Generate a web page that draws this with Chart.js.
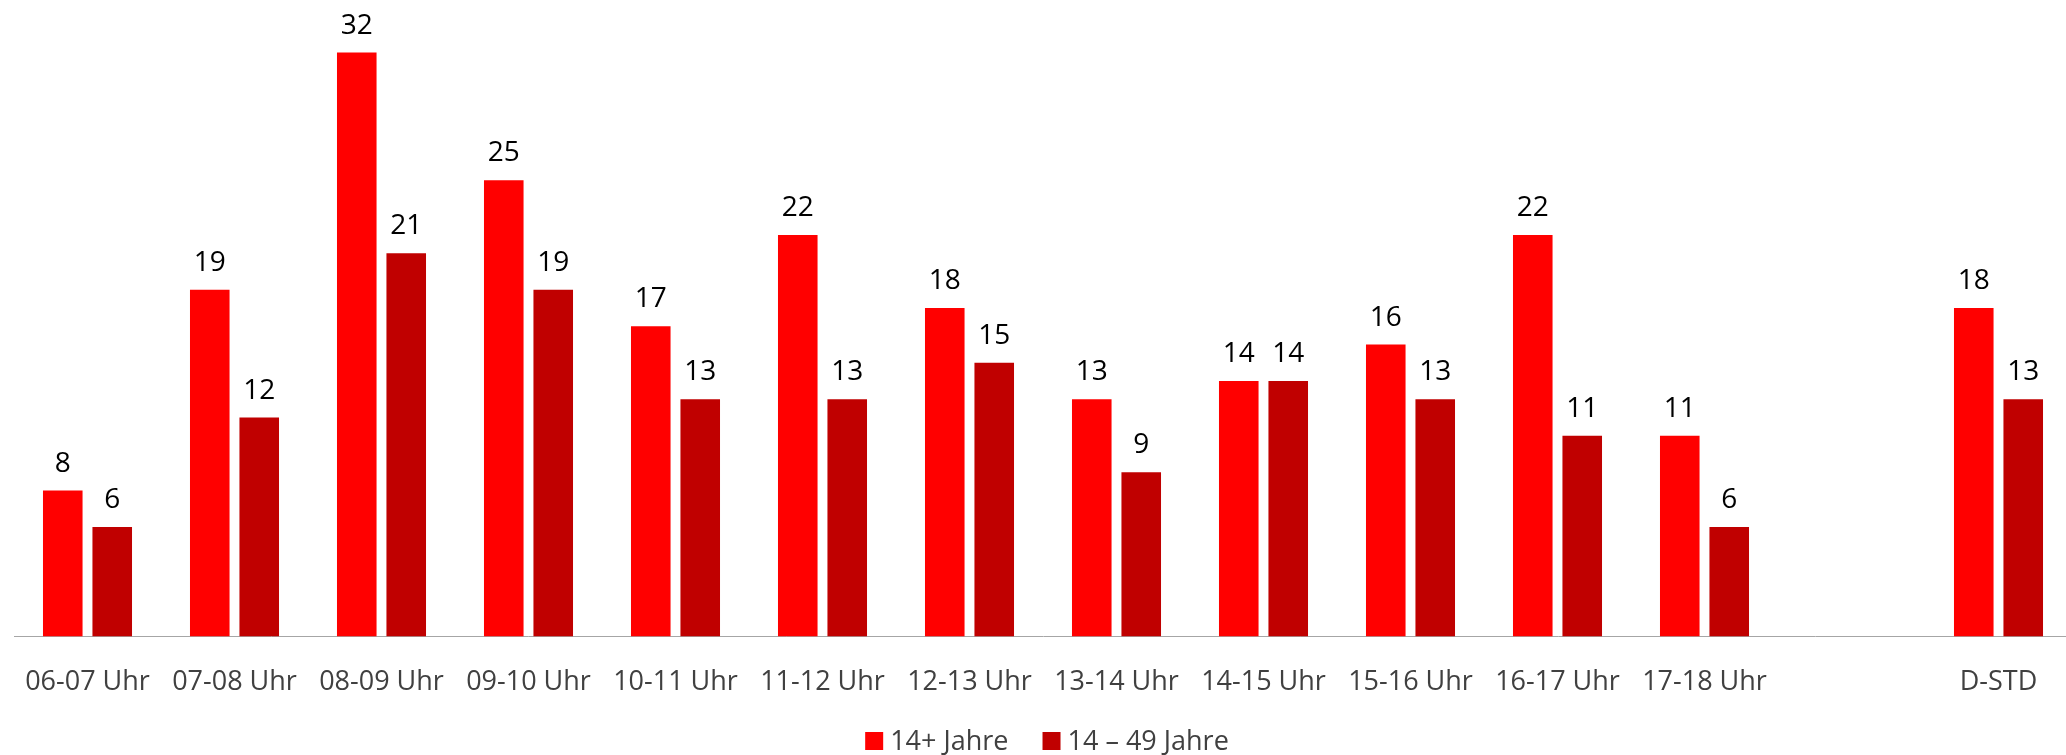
<!DOCTYPE html>
<html>
<head>
<meta charset="utf-8">
<script src="https://cdn.jsdelivr.net/npm/chart.js@4.4.1/dist/chart.umd.min.js"></script>
<style>
    html, body { margin: 0; padding: 0; background: #ffffff; overflow: hidden; }
    #wrap { width: 2072px; height: 755px; }
</style>
</head>
<body>
<div id="wrap"><canvas id="barCanvas"></canvas></div>
<script>
// Time slots along the x axis (empty slot keeps the gap before D-STD)
const slotLabels = ['06-07 Uhr', '07-08 Uhr', '08-09 Uhr', '09-10 Uhr', '10-11 Uhr', '11-12 Uhr',
    '12-13 Uhr', '13-14 Uhr', '14-15 Uhr', '15-16 Uhr', '16-17 Uhr', '17-18 Uhr', '', 'D-STD'];

// Series values
const valuesAll = [8, 19, 32, 25, 17, 22, 18, 13, 14, 16, 22, 11, null, 18];
const values1449 = [6, 12, 21, 19, 13, 13, 15, 9, 14, 13, 11, 6, null, 13];

const seriesNames = ['14+ Jahre', '14 \u2013 49 Jahre'];
const seriesColors = ['#ff0000', '#c00000'];

const fontStack = '"Open Sans", "Noto Sans", sans-serif';

// Paint value labels above each bar
const valueLabelPlugin = {
    id: 'valueLabels',
    afterDatasetsDraw(chart) {
        const ctx = chart.ctx;
        ctx.save();
        ctx.font = '28px ' + fontStack;
        ctx.fillStyle = '#000000';
        ctx.textAlign = 'center';
        ctx.textBaseline = 'alphabetic';
        chart.data.datasets.forEach((ds, i) => {
            const meta = chart.getDatasetMeta(i);
            meta.data.forEach((bar, j) => {
                const v = ds.data[j];
                if (v === null || v === undefined) return;
                ctx.fillText(String(v), bar.x, bar.y - 19);
            });
        });
        ctx.restore();
    }
};

// Legend drawn by hand so the item spacing can match the original
const bottomLegendPlugin = {
    id: 'bottomLegend',
    afterDraw(chart) {
        const ctx = chart.ctx;
        const box = 18, textGap = 7, itemGap = 34, centerY = 741;
        ctx.save();
        ctx.font = '27px ' + fontStack;
        ctx.textBaseline = 'middle';
        const items = chart.data.datasets.map(ds => ({
            text: ds.label, color: ds.backgroundColor, w: ctx.measureText(ds.label).width
        }));
        let total = items.reduce((s, it) => s + box + textGap + it.w, 0) + itemGap * (items.length - 1);
        let x = (chart.chartArea.left + chart.chartArea.right) / 2 - total / 2 + 4;
        items.forEach(it => {
            ctx.fillStyle = it.color;
            ctx.fillRect(x, centerY - box / 2, box, box);
            ctx.fillStyle = '#404040';
            ctx.fillText(it.text, x + box + textGap, centerY + 1);
            x += box + textGap + it.w + itemGap;
        });
        ctx.restore();
    }
};

const ctx = document.getElementById('barCanvas').getContext('2d');
new Chart(ctx, {
    type: 'bar',
    data: {
        labels: slotLabels,
        datasets: [
            { label: seriesNames[0], data: valuesAll, backgroundColor: seriesColors[0] },
            { label: seriesNames[1], data: values1449, backgroundColor: seriesColors[1] }
        ]
    },
    options: {
        responsive: true,
        maintainAspectRatio: false,
        devicePixelRatio: 1,
        animation: false,
        categoryPercentage: 0.673,
        barPercentage: 0.8,
        layout: { padding: { left: 14, right: 0, top: 16, bottom: 26 } },
        plugins: {
            tooltip: { enabled: false },
            legend: { display: false }
        },
        scales: {
            x: {
                grid: { display: false, drawTicks: false },
                border: { display: true, color: '#a6a6a6', width: 1 },
                ticks: {
                    color: '#404040',
                    padding: 30,
                    maxRotation: 0,
                    autoSkip: false,
                    font: { family: fontStack, size: 27 }
                },
                // labels fit inside their slots, drop the extra side padding
                afterFit(scale) {
                    scale.paddingLeft = 0;
                    scale.paddingRight = 0;
                }
            },
            y: {
                display: false,
                min: 0,
                max: 34
            }
        }
    },
    plugins: [valueLabelPlugin, bottomLegendPlugin]
});
</script>
</body>
</html>
